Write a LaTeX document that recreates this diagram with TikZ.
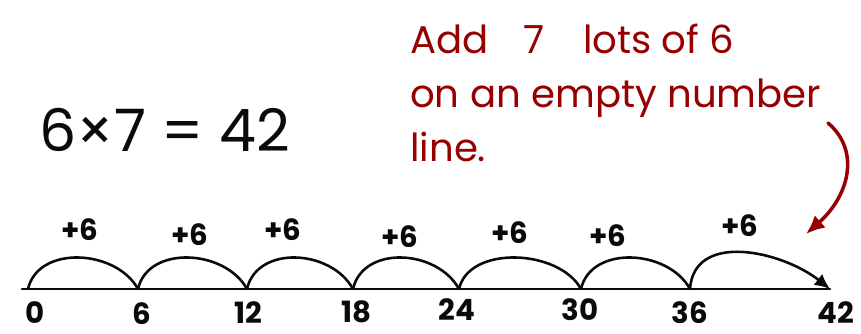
\documentclass[tikz,border=0pt]{standalone}
\usepackage{fontspec}
\setmainfont{Poppins}
\usetikzlibrary{arrows.meta, positioning, calc}
\definecolor{penblack}{RGB}{10,10,10}
\definecolor{penred}{RGB}{150,0,0}

\begin{document}
\begin{tikzpicture}[x=0.03cm, y=-0.03cm,
    hop/.style={line width=2.2pt, penblack, line cap=round},
    ticklabel/.style={font=\fontsize{25}{26}\selectfont\bfseries, text=penblack, inner sep=0pt},
    hoplabel/.style={font=\fontsize{25}{26}\selectfont\bfseries, text=penblack, inner sep=0pt},
    note/.style={font=\fontsize{33}{46}\selectfont, text=penred, align=left, inner sep=0pt}]

\useasboundingbox (0,0) rectangle (861,334);

% === equation ===
\node[font=\fontsize{50}{56}\selectfont, text=penblack] (sum) at (165,130) {6×7 = 42};

% === note ===
\node[note, anchor=north west] (note) at (410,24)
    {Add\hspace{0.9em}7\hspace{1em}lots of 6\\on an empty number\\line.};
\coordinate (notetail) at (828,123);
\coordinate (notehead) at (806,234);
\draw[penred, line width=3pt, line cap=round, -{Latex[length=16pt, width=14pt]}]
    (notetail) .. controls (860,150) and (850,195) .. (notehead);

% === number line ===
\coordinate (start) at (22,289);
\coordinate (end) at (830,289);
\draw[hop] (start) -- (end);

\foreach \name/\x in {p0/28, p6/138, p12/247, p18/353, p24/459, p30/581, p36/690, p42/830}
    \coordinate (\name) at (\x,289);

% jumps
\foreach \a/\b in {p0/p6, p6/p12, p12/p18, p18/p24, p24/p30, p30/p36}
    \draw[hop] (\a) .. controls +(10,-44) and +(-22,-40) .. (\b);
\draw[hop, -{Latex[length=13pt, width=12pt]}] (p36) .. controls +(4,-58) and +(-48,-38) .. (p42);

% tick labels
\node[ticklabel] (l0) at (35,313) {0};
\node[ticklabel] (l6) at (142,314) {6};
\node[ticklabel] (l12) at (248,313) {12};
\node[ticklabel] (l18) at (356,312) {18};
\node[ticklabel] (l24) at (457,310) {24};
\node[ticklabel] (l30) at (580,310) {30};
\node[ticklabel] (l36) at (690,313) {36};
\node[ticklabel] (l42) at (836,313) {42};

% jump labels
\node[hoplabel] (h1) at (80,230) {+6};
\node[hoplabel] (h2) at (190,235) {+6};
\node[hoplabel] (h3) at (283,230) {+6};
\node[hoplabel] (h4) at (400,237) {+6};
\node[hoplabel] (h5) at (510,233) {+6};
\node[hoplabel] (h6) at (608,236) {+6};
\node[hoplabel] (h7) at (740,226) {+6};

\end{tikzpicture}
\end{document}
